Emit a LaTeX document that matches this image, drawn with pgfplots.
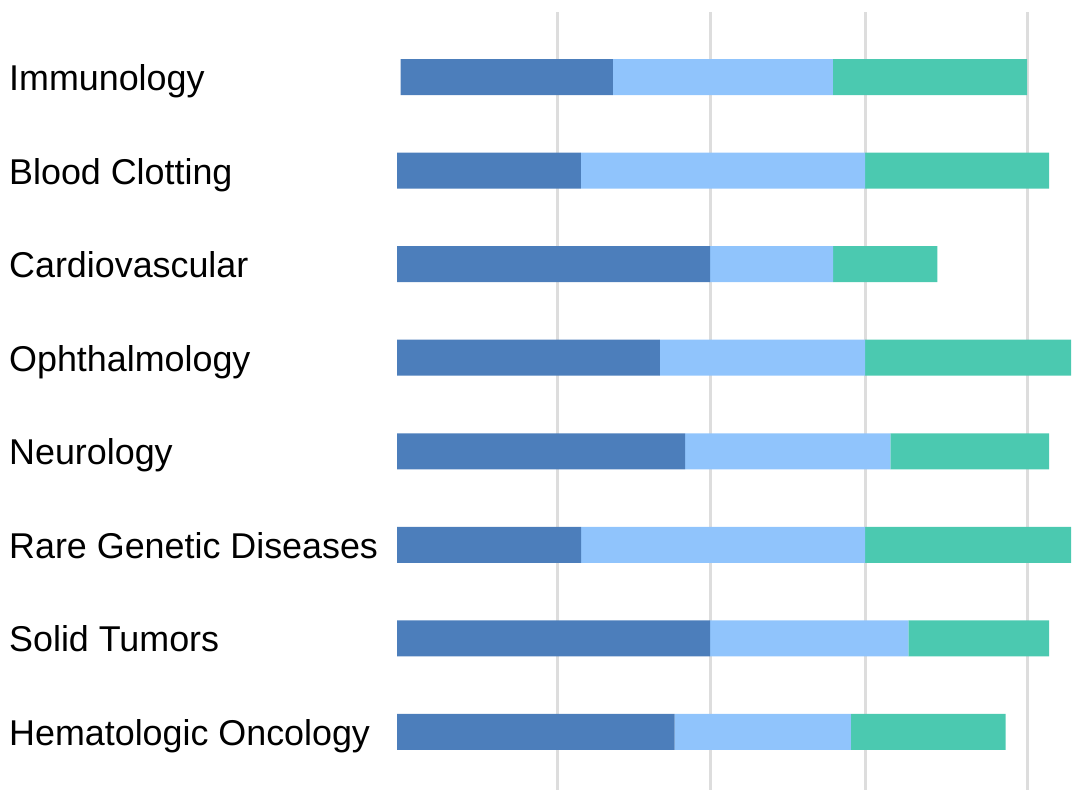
\documentclass[border=0pt]{standalone}
\usepackage{fontspec}
\setmainfont{Liberation Sans}
\usepackage{pgfplots}
\pgfplotsset{compat=1.18}

\definecolor{segA}{HTML}{4C7EBB}
\definecolor{segB}{HTML}{90C4FC}
\definecolor{segC}{HTML}{4BC9B0}
\definecolor{gridgray}{HTML}{DDDDDD}

\begin{document}
\begin{tikzpicture}
\path[use as bounding box] (0,0) rectangle (1080bp,804bp);

\begin{axis}[
    at={(397bp,14bp)}, anchor=south west,
    scale only axis, width=678bp, height=778bp,
    xmin=0, xmax=678,
    ymin=-0.695, ymax=7.62, y dir=reverse,
    xbar stacked, bar width=36bp,
    axis line style={draw=none},
    xtick={160.4,313.2,468.4,630.7}, xticklabels={},
    xmajorgrids,
    major grid style={color=gridgray, line width=2.6bp},
    ytick={0,...,7},
    yticklabels={Immunology, Blood Clotting, Cardiovascular, Ophthalmology,
                 Neurology, Rare Genetic Diseases, Solid Tumors, Hematologic Oncology},
    major tick length=0pt,
    yticklabel style={anchor=base west, xshift=-388bp, yshift=-13.5bp, inner sep=0pt,
                      font=\fontsize{36}{42}\selectfont},
]
% small start offset of the first row
\addplot[draw=none, fill=none] coordinates {
(3.5,0) (0,1) (0,2) (0,3) (0,4) (0,5) (0,6) (0,7)};
\addplot[draw=none, fill=segA] coordinates {
(212.4,0) (183.8,1) (313.2,2) (262.9,3) (288.2,4) (184.0,5) (313.2,6) (277.5,7)};
\addplot[draw=none, fill=segB] coordinates {
(220.0,0) (284.2,1) (122.8,2) (205.1,3) (205.2,4) (284.0,5) (198.1,6) (176.3,7)};
\addplot[draw=none, fill=segC] coordinates {
(194.1,0) (184.0,1) (104.4,2) (206.0,3) (158.6,4) (206.0,5) (140.7,6) (154.8,7)};
\end{axis}
\end{tikzpicture}
\end{document}
